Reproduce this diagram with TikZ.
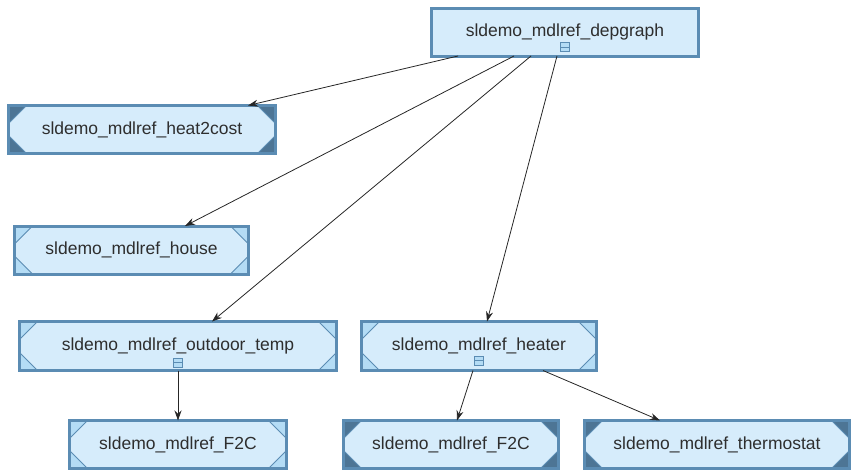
\documentclass[tikz,border=0pt]{standalone}
\usepackage{fontspec}
\setmainfont{Liberation Sans}
\usetikzlibrary{arrows.meta}
\definecolor{boxedge}{HTML}{5B8CB3}
\definecolor{boxfill}{HTML}{D6ECFB}
\definecolor{cornerlight}{HTML}{B4DCF5}
\definecolor{cornerdark}{HTML}{4D7595}
\definecolor{textgray}{HTML}{2E2E2E}
\begin{document}
\begin{tikzpicture}[x=1pt,y=-1pt,
        mdlroot/.style={draw=boxedge, line width=3pt, fill=boxfill, outer sep=0pt,
            text=textgray, font=\fontsize{17.5}{19}\selectfont, minimum height=48pt},
        cornerfill/.store in=\mdlcorner,
        mdlref/.style={mdlroot, path picture={
            \foreach \a/\sx/\sy in {north west/1/1,north east/-1/1,south west/1/-1,south east/-1/-1}
                \filldraw[fill=\mdlcorner, draw=boxedge, line width=1pt] (path picture bounding box.\a) -- ++(\sx*18,0) -- ++(-\sx*18,\sy*18) -- cycle;
        }},
        lightref/.style={mdlref, cornerfill=cornerlight},
        darkref/.style={mdlref, cornerfill=cornerdark},
        dep/.style={-{Stealth[length=10pt,width=7pt]}, line width=0.8pt, black!85}]
        \useasboundingbox (0,0) rectangle (855,472);

        \node[mdlroot, minimum width=267pt] (depgraph) at (565,32) {sldemo\_mdlref\_depgraph};
        \node[darkref, minimum width=267pt, minimum height=48pt] (heat2cost) at (142,129.5) {sldemo\_mdlref\_heat2cost};
        \node[lightref, minimum width=234pt] (house) at (131.5,250) {sldemo\_mdlref\_house};
        \node[lightref, minimum width=317pt, minimum height=49pt] (outdoor) at (178,346) {sldemo\_mdlref\_outdoor\_temp};
        \node[lightref, minimum width=235pt, minimum height=49pt] (heater) at (479,346) {sldemo\_mdlref\_heater};
        \node[lightref, minimum width=217pt] (f2cA) at (178,444.5) {sldemo\_mdlref\_F2C};
        \node[darkref, minimum width=215pt] (f2cB) at (451,444.5) {sldemo\_mdlref\_F2C};
        \node[darkref, minimum width=265pt] (thermo) at (717,444.5) {sldemo\_mdlref\_thermostat};

        \foreach \n/\dy in {depgraph/9,outdoor/8,heater/10} {
            \draw[boxedge, fill=cornerlight, line width=0.8pt] ([yshift=\dy pt]\n.south) +(-4.5,-4.5) rectangle +(4.5,4.5);
            \draw[boxedge, line width=0.8pt] ([yshift=\dy pt]\n.south) +(-4.5,0) -- +(4.5,0);
        }

        \draw[dep] ([xshift=-107pt]depgraph.south) -- ([xshift=106pt]heat2cost.north);
        \draw[dep] ([xshift=-51pt]depgraph.south) -- ([xshift=53.5pt]house.north);
        \draw[dep] ([xshift=-34pt]depgraph.south) -- ([xshift=34pt]outdoor.north);
        \draw[dep] ([xshift=-8pt]depgraph.south) -- ([xshift=8pt]heater.north);
        \draw[dep] (outdoor.south) -- (f2cA.north);
        \draw[dep] ([xshift=-6pt]heater.south) -- ([xshift=6pt]f2cB.north);
        \draw[dep] ([xshift=64pt]heater.south) -- ([xshift=-57pt]thermo.north);
    \end{tikzpicture}
\end{document}
